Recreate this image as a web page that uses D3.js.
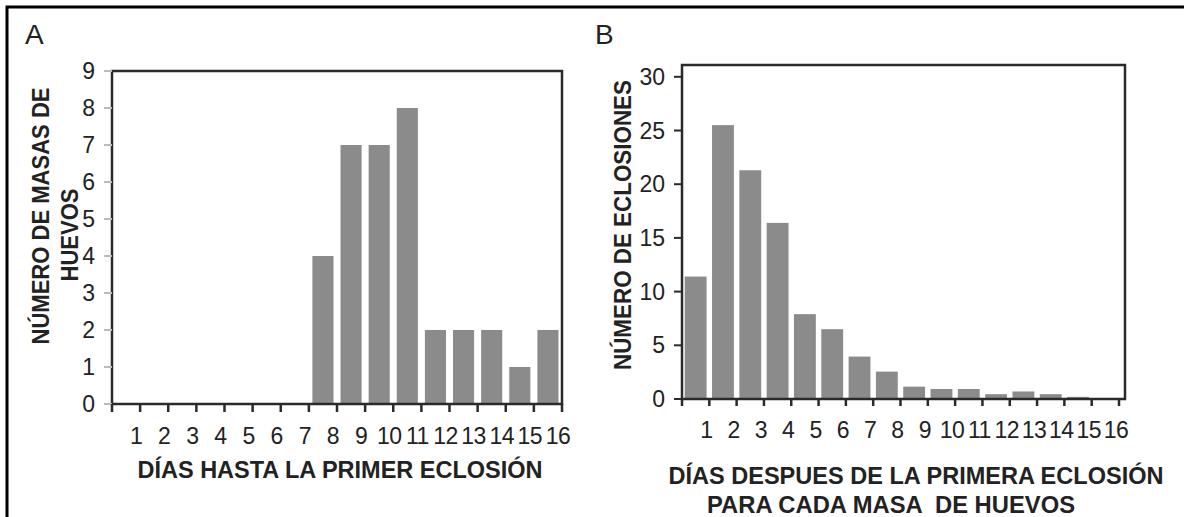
<!DOCTYPE html>
<html>
<head>
<meta charset="utf-8">
<script src="https://cdn.jsdelivr.net/npm/d3@7"></script>
<style>
  html, body { margin: 0; padding: 0; background: #fff; }
  svg { display: block; }
  text { font-family: "Liberation Sans", Arial, sans-serif; fill: #222; }
</style>
</head>
<body>
<script>
// ---- data ----
const days = [1,2,3,4,5,6,7,8,9,10,11,12,13,14,15,16];
const massesA = [0,0,0,0,0,0,0,4,7,7,8,2,2,2,1,2];
const hatchingsB = [11.4,25.5,21.3,16.4,7.9,6.5,3.95,2.55,1.15,0.93,0.93,0.45,0.7,0.45,0.2,0];
const yTicksA = [0,1,2,3,4,5,6,7,8,9];
const yTicksB = [0,5,10,15,20,25,30];
const xLabelsA = days.map(String);
const xLabelsB = days.map(String);

const W = 1184, H = 517;
const svg = d3.select("body").append("svg").attr("width", W).attr("height", H);

// outer frame (open at right / bottom)
svg.append("path").attr("d", `M7,${H} V7 H${W}`)
  .attr("fill", "none").attr("stroke", "#000").attr("stroke-width", 3);

function panel(cfg) {
  const g = svg.append("g");
  const x = d3.scaleBand().domain(days).range([cfg.left, cfg.bandRight])
    .paddingInner(cfg.padIn).paddingOuter(cfg.padOut);
  const y = d3.scaleLinear().domain(cfg.yDomain).range([cfg.bottom, cfg.top]);
  const step = x.step();
  const r0 = x.range()[0];

  g.selectAll("rect.bar").data(cfg.values.map((v, i) => ({d: days[i], v})))
    .enter().append("rect")
    .attr("x", d => x(d.d)).attr("width", x.bandwidth())
    .attr("y", d => y(d.v)).attr("height", d => cfg.bottom - y(d.v))
    .attr("fill", "#8b8b8b");

  g.append("rect").attr("x", cfg.left).attr("y", cfg.top)
    .attr("width", cfg.frameRight - cfg.left).attr("height", cfg.bottom - cfg.top)
    .attr("fill", "none").attr("stroke", "#2a2a2a").attr("stroke-width", 2.5);

  g.selectAll("line.yt").data(cfg.yTicks).enter().append("line")
    .attr("x1", cfg.left - 8).attr("x2", cfg.left)
    .attr("y1", d => y(d)).attr("y2", d => y(d))
    .attr("stroke", cfg.yTickColor).attr("stroke-width", 2);
  g.selectAll("text.yl").data(cfg.yTicks).enter().append("text")
    .attr("x", cfg.yLabelX).attr("y", d => y(d) + 8)
    .attr("text-anchor", "end").attr("font-size", 23)
    .text(d => d);

  const xt = d3.range(0, days.length + 1);
  g.selectAll("line.xt").data(xt).enter().append("line")
    .attr("x1", i => r0 + i * step).attr("x2", i => r0 + i * step)
    .attr("y1", cfg.bottom).attr("y2", cfg.bottom + cfg.xTickLen)
    .attr("stroke", "#2a2a2a").attr("stroke-width", 2.5);
  g.selectAll("text.xl").data(cfg.xLabels).enter().append("text")
    .attr("x", (d, i) => r0 + (i + 1) * step + cfg.xLabelShift)
    .attr("y", cfg.xLabelY)
    .attr("text-anchor", "middle").attr("font-size", 23)
    .attr("letter-spacing", -0.5)
    .text(d => d);

  svg.append("text").attr("x", cfg.letterX).attr("y", 44)
    .attr("font-size", 28).text(cfg.letter);
  return g;
}

panel({
  letter: "A", letterX: 25,
  left: 112, bandRight: 562, frameRight: 562, top: 71, bottom: 404,
  padIn: 0.25, padOut: 0.125, yDomain: [0, 9], values: massesA,
  yTicks: yTicksA, yTickColor: "#bbb", yLabelX: 95,
  xLabels: xLabelsA, xLabelShift: -4, xLabelY: 444, xTickLen: 8
});

panel({
  letter: "B", letterX: 595,
  left: 682, bandRight: 1119, frameRight: 1125, top: 65, bottom: 399,
  padIn: 0.2, padOut: 0.1, yDomain: [0, 31.1], values: hatchingsB,
  yTicks: yTicksB, yTickColor: "#2a2a2a", yLabelX: 665,
  xLabels: xLabelsB, xLabelShift: -3, xLabelY: 438, xTickLen: 7
});

function title(txt, x, y, len, rot) {
  const t = svg.append("text")
    .attr("font-size", 23).attr("font-weight", "bold")
    .attr("text-anchor", "middle")
    .attr("textLength", len).attr("lengthAdjust", "spacingAndGlyphs")
    .style("white-space", "pre")
    .text(txt);
  if (rot) t.attr("transform", `translate(${x},${y}) rotate(-90)`);
  else t.attr("x", x).attr("y", y);
}
title("DÍAS HASTA LA PRIMER ECLOSIÓN", 340, 478, 405, false);
title("DÍAS DESPUES DE LA PRIMERA ECLOSIÓN", 916, 484, 495, false);
title("PARA CADA MASA  DE HUEVOS", 891, 513, 368, false);
title("NÚMERO DE MASAS DE", 49, 216, 257, true);
title("HUEVOS", 78, 235, 93, true);
title("NÚMERO DE ECLOSIONES", 631, 225, 290, true);
</script>
</body>
</html>
